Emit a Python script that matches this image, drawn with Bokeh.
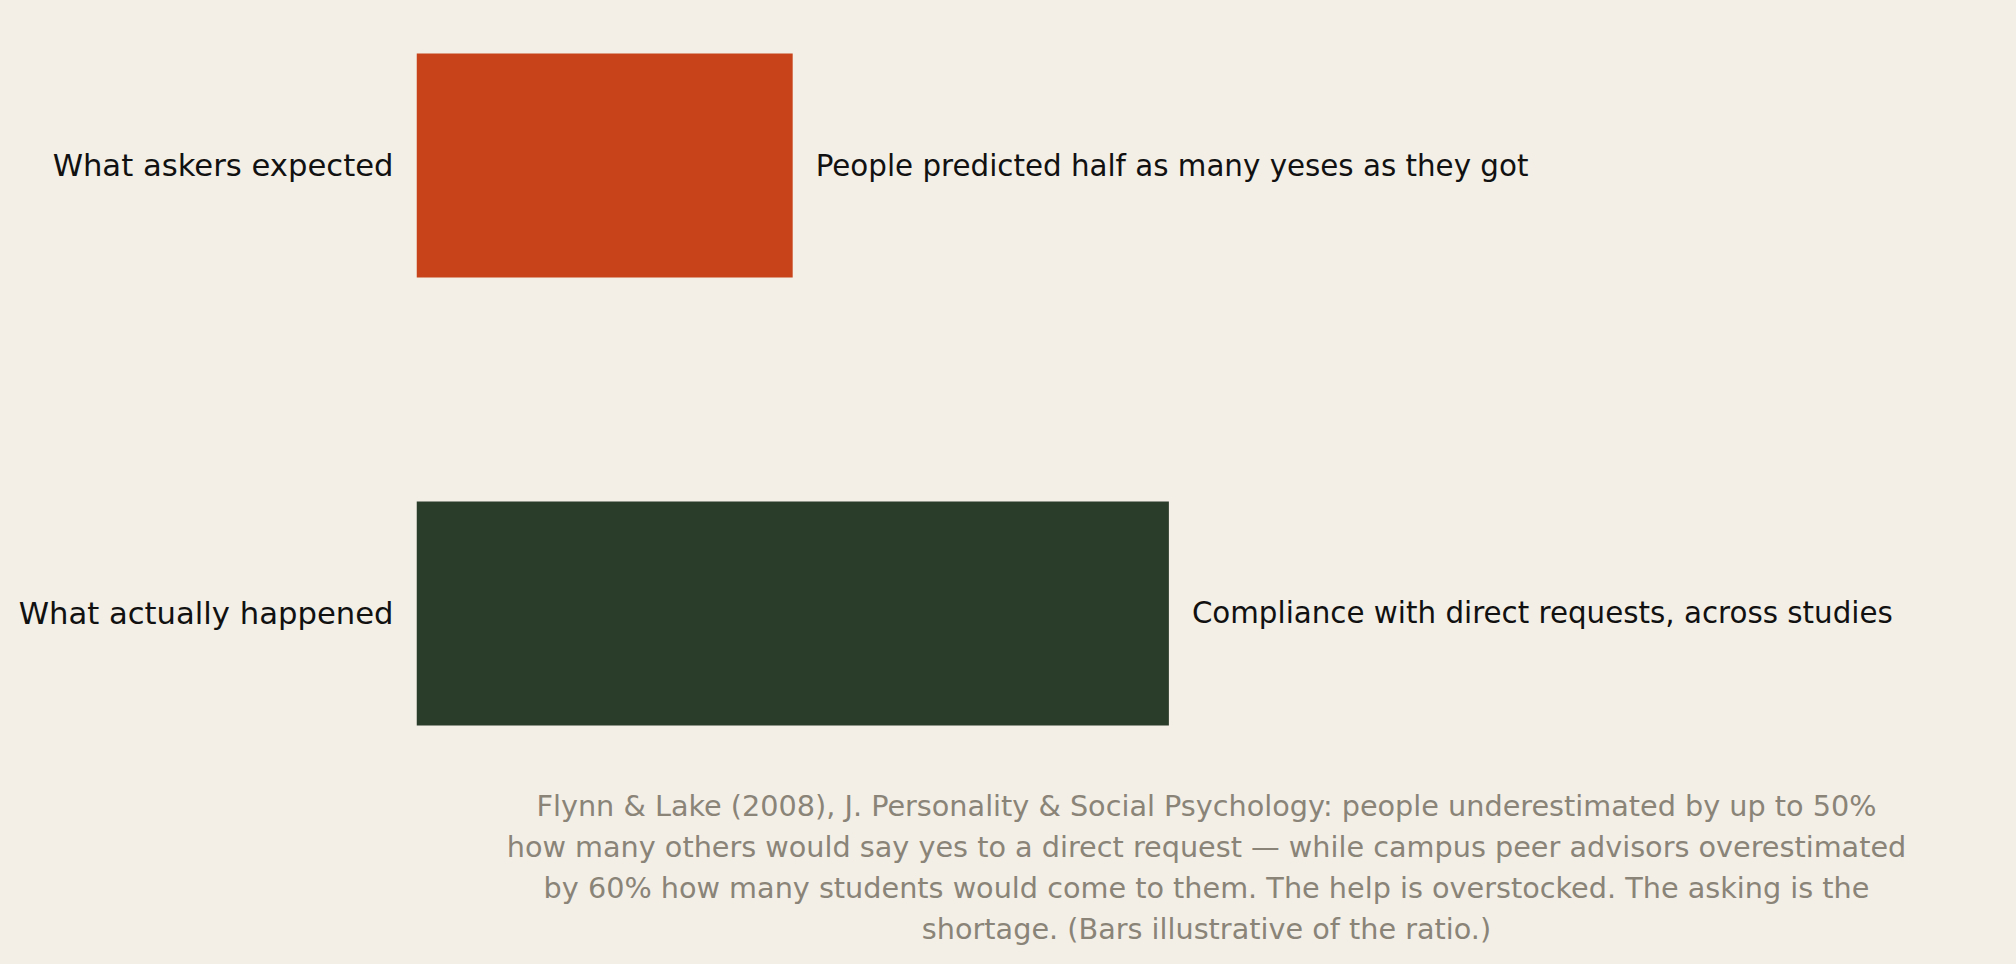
from bokeh.plotting import figure
from bokeh.models import FactorRange, Range1d, ColumnDataSource, Title
from bokeh.embed import file_html
from bokeh.resources import INLINE
from bokeh.core.properties import value

categories = ["What actually happened", "What askers expected"]
values = [2, 1]
notes = ["Compliance with direct requests, across studies",
         "People predicted half as many yeses as they got"]
colors = ["#2A3C2A", "#C8431A"]
caption_lines = [
    "Flynn & Lake (2008), J. Personality & Social Psychology: people underestimated by up to 50%",
    "how many others would say yes to a direct request \u2014 while campus peer advisors overestimated",
    "by 60% how many students would come to them. The help is overstocked. The asking is the",
    "shortage. (Bars illustrative of the ratio.)",
]

BG = "#F3EFE7"
FONT = "DejaVu Sans"

src = ColumnDataSource(dict(cat=categories, val=values, note=notes, color=colors))

p = figure(width=2008, height=964, output_backend="svg", toolbar_location=None,
           y_range=FactorRange(factors=categories, range_padding=-0.1495),
           x_range=Range1d(0, 4.2),
           min_border_left=416, min_border_right=12, min_border_top=8,
           min_border_bottom=194)
p.background_fill_color = BG
p.border_fill_color = BG
p.outline_line_color = None
p.xgrid.visible = False
p.ygrid.visible = False
p.xaxis.visible = False

p.hbar(y="cat", right="val", left=0, height=0.5, color="color", line_color=None, source=src)
p.text(x="val", y="cat", text="note", source=src, x_offset=23,
       text_baseline="middle", text_align="left", text_color="#111111",
       text_font=value(FONT), text_font_size="29.33px")

ax = p.yaxis[0]
ax.axis_line_color = None
ax.major_tick_line_color = None
ax.minor_tick_line_color = None
ax.major_label_standoff = 17
ax.major_label_text_font = FONT
ax.major_label_text_font_size = "30.67px"
ax.major_label_text_color = "#111111"

p.add_layout(Title(text=" ", text_font_size="1px", standoff=11), "below")
for line in caption_lines:
    t = Title(text=line, align="center", text_font=FONT,
              text_font_size="28.7px", text_font_style="normal", text_color="#8A8478",
              standoff=5)
    p.add_layout(t, "below")

html = file_html(p, INLINE)
html = html.replace("<head>", "<head><style>body{background:#F3EFE7;}</style>", 1)
open("out.html", "w").write(html)
